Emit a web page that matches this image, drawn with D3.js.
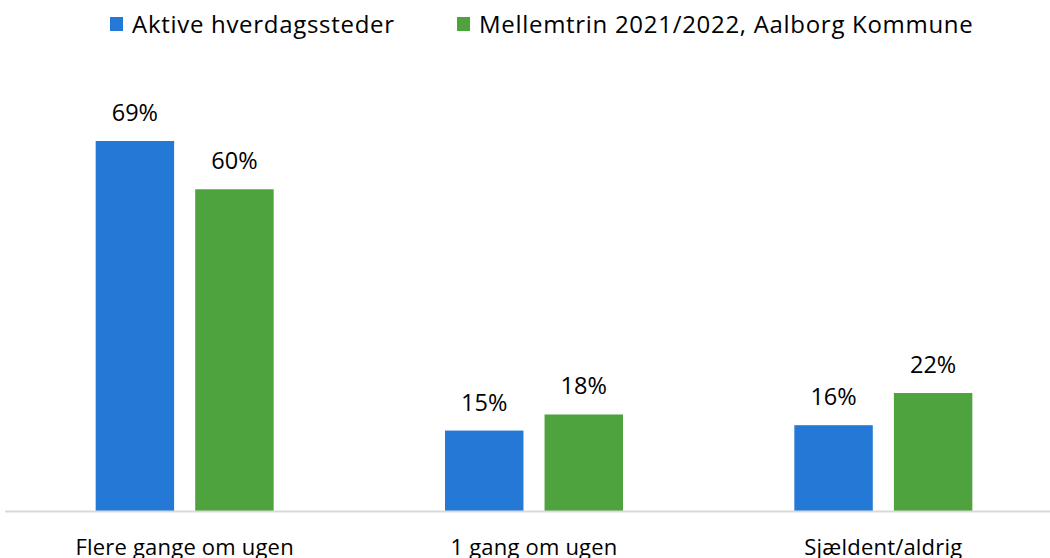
<!DOCTYPE html>
<html>
<head>
<meta charset="utf-8">
<script src="https://cdn.jsdelivr.net/npm/d3@7.9.0/dist/d3.min.js"></script>
<style>
  body { margin: 0; background: #fff; }
  svg { display: block; font-family: 'Open Sans', sans-serif; }
</style>
</head>
<body>
<svg width="1050" height="558"></svg>
<script>
// data
const categories = ['Flere gange om ugen', '1 gang om ugen', 'Sjældent/aldrig'];
const seriesNames = ['Aktive hverdagssteder', 'Mellemtrin 2021/2022, Aalborg Kommune'];
const aktive = [69, 15, 16];
const mellemtrin = [60, 18, 22];
const colors = ['#2479d6', '#4ea33f'];

const svg = d3.select('svg');
const baseY = 511;

// scales
const x = d3.scaleBand().domain(categories).range([10, 1058]).paddingInner(0).paddingOuter(0);
const x1 = d3.scaleBand().domain([0, 1]).range([x.bandwidth() / 2 - 89, x.bandwidth() / 2 + 89]).paddingInner(0.212);
const y = d3.scaleLinear().domain([0, 69]).range([baseY, 141]);

const series = [aktive, mellemtrin];

// bars
series.forEach((vals, s) => {
  const g = svg.append('g');
  g.selectAll('rect')
    .data(vals)
    .join('rect')
    .attr('x', (d, i) => x(categories[i]) + x1(s))
    .attr('y', d => y(d))
    .attr('width', x1.bandwidth())
    .attr('height', d => baseY - y(d))
    .attr('fill', colors[s]);

  g.selectAll('text')
    .data(vals)
    .join('text')
    .attr('x', (d, i) => x(categories[i]) + x1(s) + x1.bandwidth() / 2)
    .attr('y', d => y(d) - 20)
    .attr('text-anchor', 'middle')
    .attr('font-size', 23.5)
    .attr('fill', '#000')
    .text(d => d + '%');
});

// baseline
svg.append('line')
  .attr('x1', 5).attr('x2', 1050)
  .attr('y1', baseY + 0.5).attr('y2', baseY + 0.5)
  .attr('stroke', '#d9d9d9').attr('stroke-width', 2);

// category labels
svg.append('g').selectAll('text')
  .data(categories)
  .join('text')
  .attr('x', d => x(d) + x.bandwidth() / 2)
  .attr('y', 555)
  .attr('text-anchor', 'middle')
  .attr('font-size', 22)
  .attr('letter-spacing', 0.2)
  .attr('fill', '#000')
  .text(d => d);

// legend
const legendX = [110, 457];
const legend = svg.append('g').selectAll('g')
  .data(seriesNames)
  .join('g')
  .attr('transform', (d, i) => `translate(${legendX[i]},0)`);
legend.append('rect')
  .attr('x', 0).attr('y', 17).attr('width', 13).attr('height', 14)
  .attr('fill', (d, i) => colors[i]);
legend.append('text')
  .attr('x', 22).attr('y', 33)
  .attr('font-size', 24)
  .attr('letter-spacing', 0.7)
  .attr('fill', '#000')
  .text(d => d);
</script>
</body>
</html>
